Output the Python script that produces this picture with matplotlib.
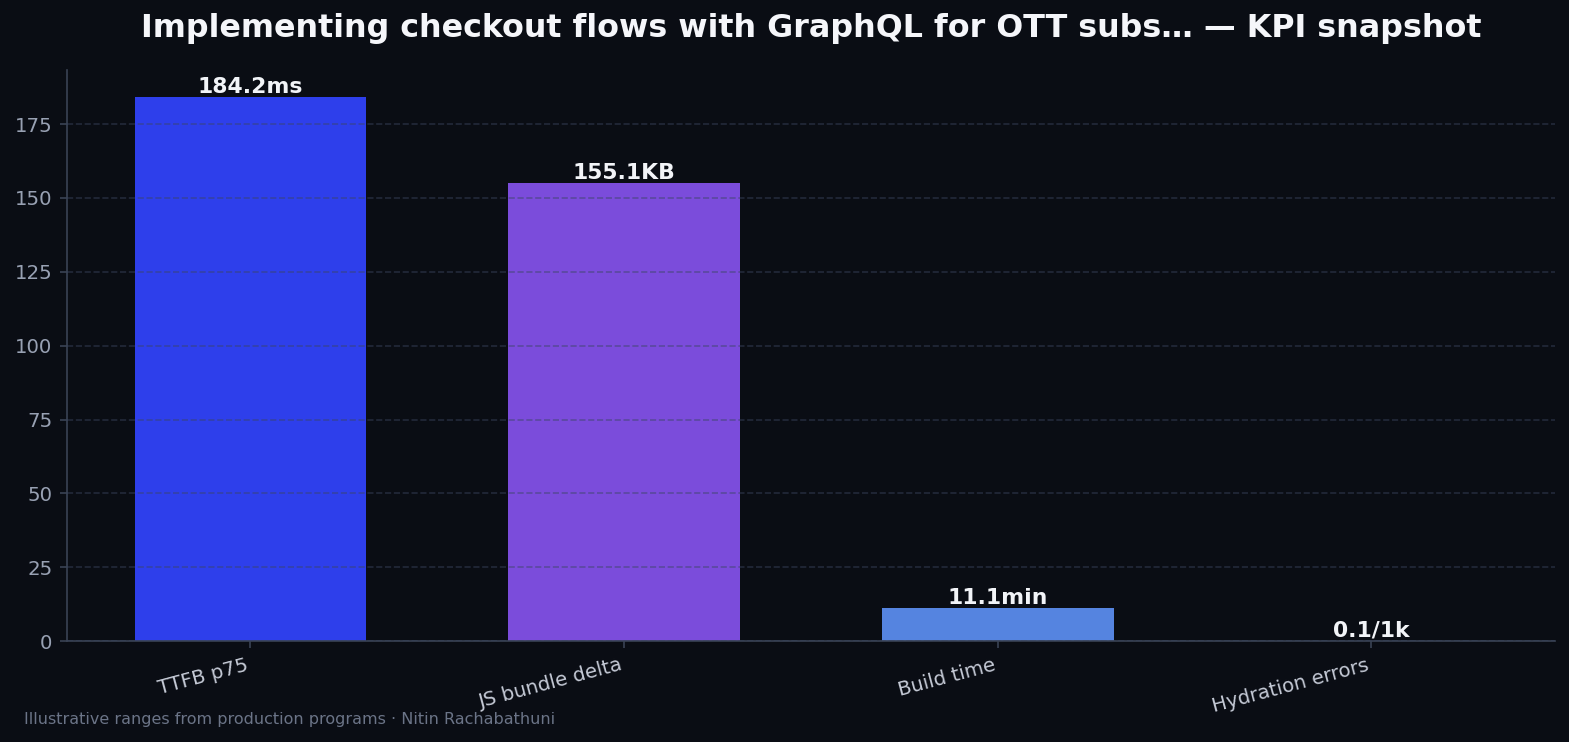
import matplotlib
matplotlib.use("Agg")
import matplotlib.pyplot as plt

# KPI data
metrics = ["TTFB p75", "JS bundle delta", "Build time", "Hydration errors"]
values = [184.2, 155.1, 11.1, 0.1]
labels = ["184.2ms", "155.1KB", "11.1min", "0.1/1k"]
bar_colors = ["#2E3FEB", "#7B4CDB", "#5584E0", "#3FB6C9"]

bg = "#0A0D14"
plt.rcParams['font.family'] = 'DejaVu Sans'

fig, ax = plt.subplots(figsize=(1569 / 150, 742 / 150), dpi=150)
fig.patch.set_facecolor(bg)
ax.set_facecolor(bg)
fig.subplots_adjust(left=0.0427, right=0.991, top=0.906, bottom=0.136)

bars = ax.bar(range(len(metrics)), values, width=0.62, color=bar_colors, zorder=1)

for bar, lab in zip(bars, labels):
    ax.text(bar.get_x() + bar.get_width() / 2, bar.get_height(), lab,
            ha="center", va="bottom", fontsize=10.5, fontweight="bold",
            color="#F2F4F8", zorder=3)

ax.set_xticks(range(len(metrics)))
ax.set_xticklabels(metrics, rotation=15, ha="right", fontsize=9.5, color="#C5CAD6")
ax.tick_params(axis="y", labelsize=9.5, labelcolor="#98A1B3", color="#3A4354")
ax.tick_params(axis="x", color="#3A4354")

ax.grid(True, axis="y", linestyle="--", color="#3A4560", alpha=0.5, linewidth=0.8, zorder=2)
ax.set_axisbelow(False)
for side in ["top", "right"]:
    ax.spines[side].set_visible(False)
for side in ["left", "bottom"]:
    ax.spines[side].set_color("#3A4354")

ax.set_title("Implementing checkout flows with GraphQL for OTT subs… — KPI snapshot",
             fontsize=15.25, fontweight="bold", color="#F5F6FA", pad=15.5)

fig.text(0.0153, 0.03, "Illustrative ranges from production programs · Nitin Rachabathuni",
         fontsize=7.7, color="#6B7487", ha="left", va="center")

plt.savefig("out.png", dpi=150, facecolor=bg)
plt.close()
